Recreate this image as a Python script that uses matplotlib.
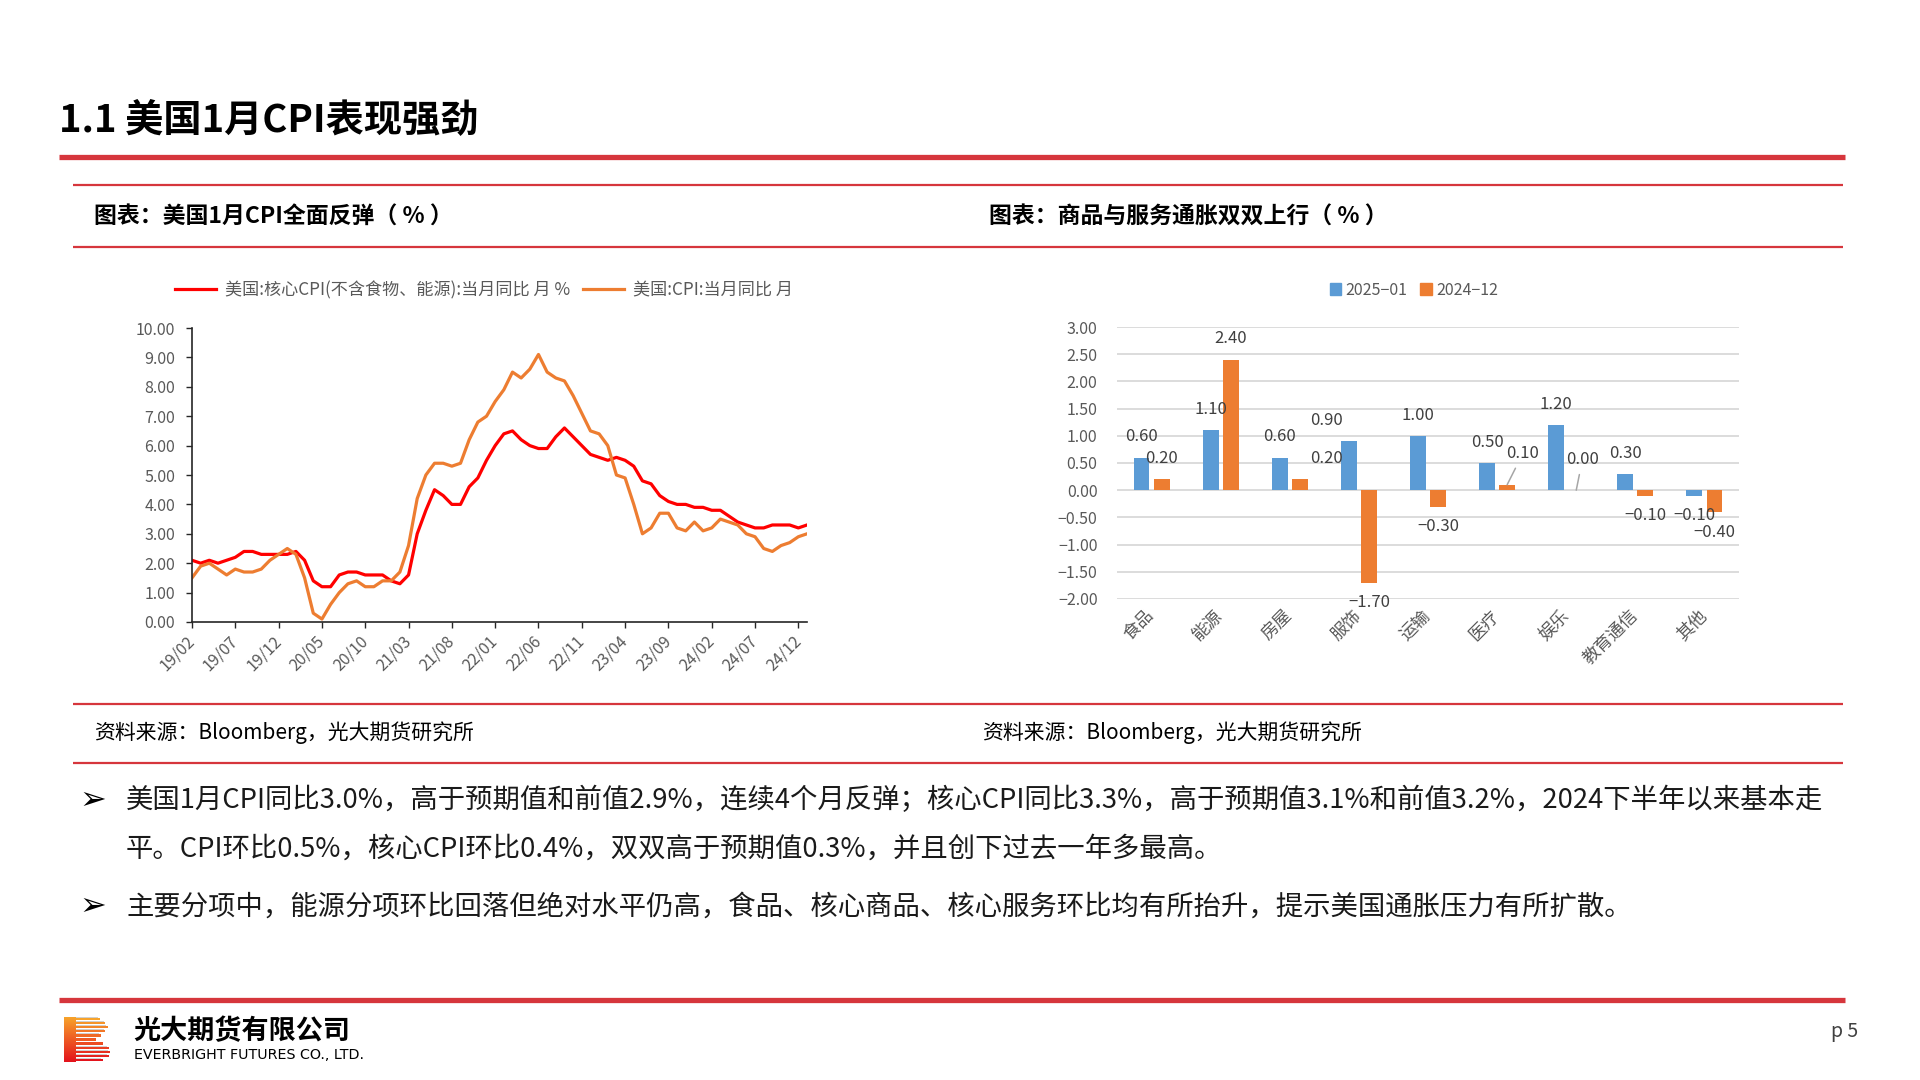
import numpy as np
import pandas as pd
import matplotlib
matplotlib.use('Agg')
import matplotlib.pyplot as plt
from matplotlib.lines import Line2D
from matplotlib.patches import Rectangle
from matplotlib.colors import LinearSegmentedColormap
from matplotlib.ticker import FuncFormatter, MultipleLocator

plt.rcParams['font.family'] = ['Noto Sans CJK SC', 'DejaVu Sans']
plt.rcParams['axes.unicode_minus'] = True

# 左图数据: 美国CPI同比 2019/02 - 2025/01
months = list(pd.period_range('2019-02', '2025-01', freq='M').strftime('%y/%m'))
core_cpi = [2.1, 2.0, 2.1, 2.0, 2.1, 2.2, 2.4, 2.4, 2.3, 2.3, 2.3,
            2.3, 2.4, 2.1, 1.4, 1.2, 1.2, 1.6, 1.7, 1.7, 1.6, 1.6, 1.6,
            1.4, 1.3, 1.6, 3.0, 3.8, 4.5, 4.3, 4.0, 4.0, 4.6, 4.9, 5.5,
            6.0, 6.4, 6.5, 6.2, 6.0, 5.9, 5.9, 6.3, 6.6, 6.3, 6.0, 5.7,
            5.6, 5.5, 5.6, 5.5, 5.3, 4.8, 4.7, 4.3, 4.1, 4.0, 4.0, 3.9,
            3.9, 3.8, 3.8, 3.6, 3.4, 3.3, 3.2, 3.2, 3.3, 3.3, 3.3, 3.2,
            3.3]
cpi = [1.5, 1.9, 2.0, 1.8, 1.6, 1.8, 1.7, 1.7, 1.8, 2.1, 2.3,
       2.5, 2.3, 1.5, 0.3, 0.1, 0.6, 1.0, 1.3, 1.4, 1.2, 1.2, 1.4,
       1.4, 1.7, 2.6, 4.2, 5.0, 5.4, 5.4, 5.3, 5.4, 6.2, 6.8, 7.0,
       7.5, 7.9, 8.5, 8.3, 8.6, 9.1, 8.5, 8.3, 8.2, 7.7, 7.1, 6.5,
       6.4, 6.0, 5.0, 4.9, 4.0, 3.0, 3.2, 3.7, 3.7, 3.2, 3.1, 3.4,
       3.1, 3.2, 3.5, 3.4, 3.3, 3.0, 2.9, 2.5, 2.4, 2.6, 2.7, 2.9,
       3.0]
line_names = ['美国:核心CPI(不含食物、能源):当月同比 月 %', '美国:CPI:当月同比 月']

# 右图数据: 分项环比
categories = ['食品', '能源', '房屋', '服饰', '运输', '医疗', '娱乐', '教育通信', '其他']
jan25 = [0.6, 1.1, 0.6, 0.9, 1.0, 0.5, 1.2, 0.3, -0.1]
dec24 = [0.2, 2.4, 0.2, -1.7, -0.3, 0.1, 0.0, -0.1, -0.4]
bar_names = ['2025\u221201', '2024\u221212']

RED = '#D6363C'
GRAY = '#595959'
W, H = 1920, 1080


def fx(px):
    return px / W


def fy(py):
    return 1 - py / H


def hline(fig, y, x0, x1, lw, color=RED):
    fig.add_artist(Line2D([fx(x0), fx(x1)], [fy(y), fy(y)], transform=fig.transFigure,
                          color=color, lw=lw, solid_capstyle='butt'))


fmt2 = FuncFormatter(lambda v, p: f'{v:.2f}'.replace('-', '\u2212'))

fig = plt.figure(figsize=(19.2, 10.8), dpi=100, facecolor='white')

# 页眉
fig.text(fx(59), fy(120), '1.1 美国1月CPI表现强劲', fontsize=27.5, fontweight='bold', va='center', ha='left')
hline(fig, 157, 59, 1845, 3.8)
for yy in [185, 247, 704, 763]:
    hline(fig, yy, 73, 1843, 1.6)
fig.text(fx(94), fy(217), '图表：美国1月CPI全面反弹（ % ）', fontsize=16.5, fontweight='bold', va='center')
fig.text(fx(989), fy(217), '图表：商品与服务通胀双双上行（ % ）', fontsize=16.5, fontweight='bold', va='center')

# 左图
ax1 = fig.add_axes([fx(192), fy(622), (807 - 192) / W, (622 - 328) / H])
x = np.arange(len(months))
l1, = ax1.plot(x, core_cpi, color='#FF0000', lw=2.3)
l2, = ax1.plot(x, cpi, color='#ED7D31', lw=2.3)
ax1.set_xlim(0, len(months) - 1)
ax1.set_ylim(0, 10)
ax1.set_yticks(np.arange(0, 10.01, 1))
ax1.yaxis.set_major_formatter(fmt2)
ax1.set_xticks(x[::5])
ax1.set_xticklabels(months[::5], rotation=45, ha='right', va='center', rotation_mode='anchor')
for s in ['top', 'right']:
    ax1.spines[s].set_visible(False)
for s in ['left', 'bottom']:
    ax1.spines[s].set_color('#262626')
    ax1.spines[s].set_linewidth(1.2)
ax1.tick_params(axis='both', direction='out', length=4, width=1, color='#262626',
                labelcolor=GRAY, labelsize=11.5)
ax1.tick_params(axis='y', pad=8)
ax1.tick_params(axis='x', pad=8)
fig.legend([l1, l2], line_names, loc='center', bbox_to_anchor=(fx(484), fy(290)), ncol=2,
           frameon=False, fontsize=12.3, handlelength=2.4, columnspacing=0.8, handletextpad=0.5,
           labelcolor=GRAY)

# 右图
ax2 = fig.add_axes([fx(1117), fy(599), (1739 - 1117) / W, (599 - 327) / H])
idx = np.arange(len(categories))
bw, off = 0.23, 0.145
b1 = ax2.bar(idx - off, jan25, width=bw, color='#5B9BD5', zorder=3)
b2 = ax2.bar(idx + off, dec24, width=bw, color='#ED7D31', zorder=3)
ax2.set_xlim(-0.5, len(categories) - 0.5)
ax2.set_ylim(-2, 3)
ax2.yaxis.set_major_locator(MultipleLocator(0.5))
ax2.yaxis.set_major_formatter(fmt2)
ax2.grid(axis='y', color='#D9D9D9', lw=1.3, zorder=0)
for s in ax2.spines.values():
    s.set_visible(False)
ax2.tick_params(axis='both', length=0, labelcolor=GRAY, labelsize=11.5)
ax2.tick_params(axis='y', pad=14)
ax2.set_xticks(idx)
ax2.set_xticklabels(categories, rotation=45, ha='right', va='center', rotation_mode='anchor', fontsize=12.5)
ax2.tick_params(axis='x', pad=10)

# 数据标签 (个别标签位置微调 / 引导线)
nudge = {(1, 2): 0.38, (0, 3): -0.32}
leader = {(1, 5): (0.23, 0.58), (1, 6): (0.09, 0.57)}
for si, (vals, sgn) in enumerate([(jan25, -1), (dec24, 1)]):
    for i, v in enumerate(vals):
        bx = i + sgn * off
        txt = f'{v:.2f}'.replace('-', '\u2212')
        if (si, i) in leader:
            dx, dy = leader[(si, i)]
            ax2.annotate(txt, xy=(bx, v), xytext=(bx + dx, v + dy), ha='center', va='center',
                         fontsize=12, color='#404040',
                         arrowprops=dict(arrowstyle='-', color='#A6A6A6', lw=1.1, shrinkA=3, shrinkB=0))
        else:
            ly = v + 0.38 if v >= 0 else v - 0.37
            ax2.text(bx + nudge.get((si, i), 0), ly, txt, ha='center', va='center',
                     fontsize=12, color='#404040', zorder=4)

fig.legend([Rectangle((0, 0), 1, 1, color='#5B9BD5'), Rectangle((0, 0), 1, 1, color='#ED7D31')],
           bar_names, loc='center', bbox_to_anchor=(fx(1414), fy(290)), ncol=2, frameon=False,
           fontsize=11.5, handlelength=0.7, handleheight=0.7, handletextpad=0.3, columnspacing=0.8,
           labelcolor=GRAY)

# 资料来源
fig.text(fx(94), fy(733), '资料来源：Bloomberg，光大期货研究所', fontsize=15, va='center')
fig.text(fx(982), fy(733), '资料来源：Bloomberg，光大期货研究所', fontsize=15, va='center')

# 正文
body = [
    (800, True, '美国1月CPI同比3.0%，高于预期值和前值2.9%，连续4个月反弹；核心CPI同比3.3%，高于预期值3.1%和前值3.2%，2024下半年以来基本走'),
    (849, False, '平。CPI环比0.5%，核心CPI环比0.4%，双双高于预期值0.3%，并且创下过去一年多最高。'),
    (907, True, '主要分项中，能源分项环比回落但绝对水平仍高，食品、核心商品、核心服务环比均有所抬升，提示美国通胀压力有所扩散。'),
]
for yy, arrow, s in body:
    if arrow:
        fig.text(fx(79), fy(yy), '\u27a2', family='DejaVu Sans', fontsize=23, va='center')
    fig.text(fx(126), fy(yy), s, fontsize=19.7, va='center', color='#1a1a1a')

# 页脚
hline(fig, 1000, 59, 1845, 3.8)
lax = fig.add_axes([fx(64), fy(1062), 46 / W, 45 / H])
lax.set_xlim(0, 1)
lax.set_ylim(0, 1)
lax.axis('off')
cm = LinearSegmentedColormap.from_list('logo', ['#F7A32B', '#EE5A24', '#E3141C'])
lax.imshow(np.linspace(0, 1, 60)[:, None], cmap=cm, extent=[0, 0.26, 0, 1], aspect='auto')
stripe_len = [0.78, 0.9, 0.95, 0.9, 0.8, 0.7, 0.85, 0.97, 1.0, 0.97, 0.85]
n = len(stripe_len)
for k, ln in enumerate(stripe_len):
    y0 = 1 - (k + 1) / n
    lax.add_patch(Rectangle((0.26, y0 + 0.02), ln - 0.26, 0.55 / n, color=cm(k / (n - 1)), lw=0))
    lax.add_patch(Rectangle((0.26, y0 + 0.02 + 0.55 / n), ln - 0.3, 0.2 / n, color='#D0D0D0', lw=0))
fig.text(fx(133), fy(1031), '光大期货有限公司', fontsize=19.5, fontweight='bold', va='center')
fig.text(fx(134), fy(1055), 'EVERBRIGHT FUTURES CO., LTD.', family='DejaVu Sans', fontsize=10.3, va='center')
fig.text(fx(1858), fy(1031), 'p 5', fontsize=14, ha='right', va='center', color='#404040')

fig.savefig('out.png', dpi=100, facecolor='white')
